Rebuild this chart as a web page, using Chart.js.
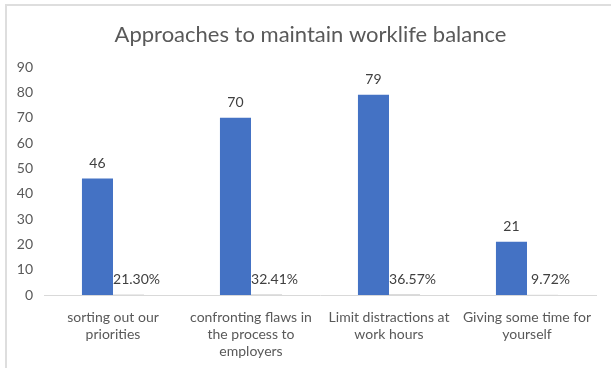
<!DOCTYPE html>
<html>
<head>
<meta charset="utf-8">
<script src="https://cdn.jsdelivr.net/npm/chart.js@4"></script>
<style>
  html, body { margin: 0; padding: 0; background: #fff; }
  .frame {
    position: absolute; left: 5px; top: 4px; width: 606px; height: 364px;
    border-top: 2px solid #dedede; border-left: 2px solid #dedede;
  }
  .wrap { position: absolute; left: 0; top: 0; width: 611px; height: 368px; }
</style>
</head>
<body>
<div class="frame"></div>
<div class="wrap"><canvas id="chart"></canvas></div>
<script>
  const chartTitle = "Approaches to maintain worklife balance";
  const categories = [
    ["sorting out our", "priorities"],
    ["confronting flaws in", "the process to", "employers"],
    ["Limit distractions at", "work hours"],
    ["Giving some time for", "yourself"]
  ];
  const counts = [46, 70, 79, 21];
  const shares = [0.2130, 0.3241, 0.3657, 0.0972];
  const yTicks = [0, 10, 20, 30, 40, 50, 60, 70, 80, 90];

  const FONT = "Lato, Calibri, 'Noto Sans', sans-serif";
  const GREY = "#595959";

  // title is centred on the whole frame, not on the plot
  const frameTitle = {
    id: "frameTitle",
    afterDraw(chart) {
      const ctx = chart.ctx;
      ctx.save();
      ctx.font = "22px " + FONT;
      ctx.fillStyle = GREY;
      ctx.textAlign = "center";
      ctx.textBaseline = "middle";
      ctx.fillText(chartTitle, chart.width / 2 + 5, 35);
      ctx.restore();
    }
  };

  // writes the count above each bar and the share next to the baseline
  const barLabels = {
    id: "barLabels",
    afterDatasetsDraw(chart) {
      const ctx = chart.ctx;
      const base = chart.scales.y.getPixelForValue(0);
      ctx.save();
      ctx.font = "14px " + FONT;
      ctx.fillStyle = "#404040";
      ctx.textAlign = "center";
      ctx.textBaseline = "middle";
      chart.getDatasetMeta(0).data.forEach((bar, i) => {
        ctx.fillText(String(counts[i]), bar.x, bar.y - 15);
      });
      chart.getDatasetMeta(1).data.forEach((bar, i) => {
        ctx.fillText((shares[i] * 100).toFixed(2) + "%", bar.x + 8, base - 16);
      });
      ctx.restore();
    }
  };

  new Chart(document.getElementById("chart"), {
    type: "bar",
    data: {
      labels: categories,
      datasets: [
        { label: "Count", data: counts, backgroundColor: "#4472C4", barPercentage: 1, categoryPercentage: 0.45 },
        { label: "Share", data: shares, backgroundColor: "#d9d9d9", barPercentage: 1, categoryPercentage: 0.45 }
      ]
    },
    options: {
      responsive: true,
      maintainAspectRatio: false,
      animation: false,
      layout: { padding: { left: 0, right: 15, top: 67, bottom: 0 } },
      plugins: {
        legend: { display: false },
        tooltip: { enabled: false },
        title: { display: false }
      },
      scales: {
        x: {
          grid: { display: false },
          border: { display: true, color: "#d9d9d9", width: 1 },
          ticks: { color: GREY, font: { family: FONT, size: 14, lineHeight: 1.2 }, padding: 6, maxRotation: 0, autoSkip: false },
          afterFit(scale) { scale.height = 73; }
        },
        y: {
          min: 0,
          max: 90,
          afterBuildTicks(scale) { scale.ticks = yTicks.map(v => ({ value: v })); },
          grid: { display: false, drawTicks: false },
          border: { display: false },
          ticks: { color: GREY, font: { family: FONT, size: 14 }, padding: 11 },
          afterFit(scale) { scale.width = 44; }
        }
      }
    },
    plugins: [barLabels, frameTitle]
  });
</script>
</body>
</html>
